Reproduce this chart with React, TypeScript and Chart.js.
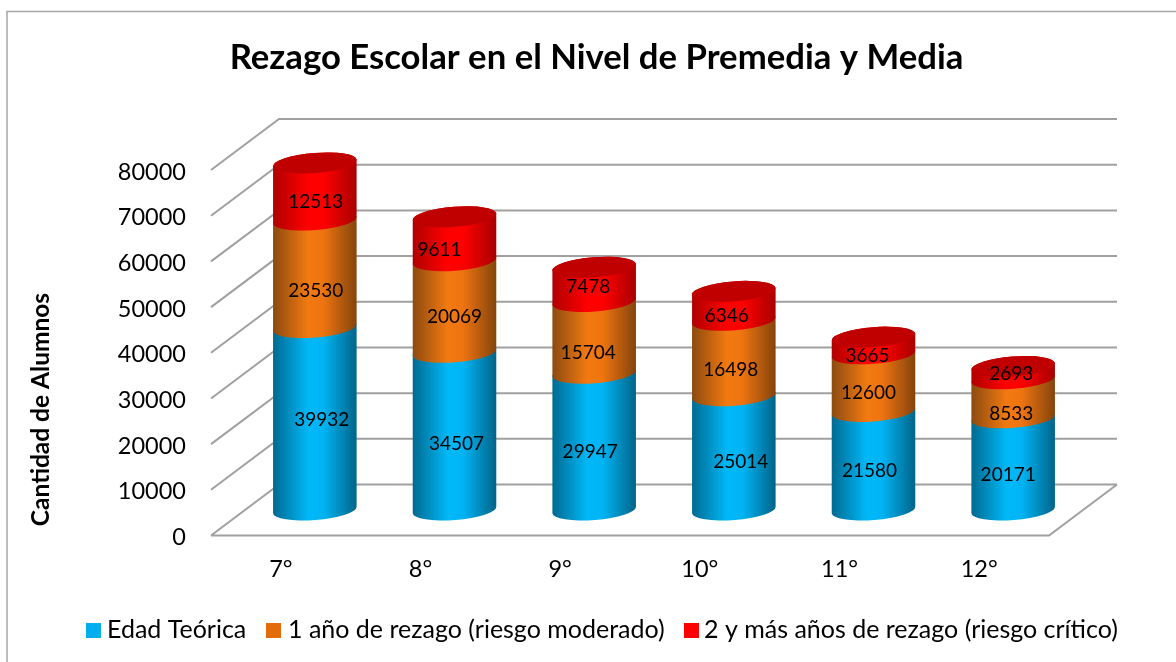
import React, { useEffect, useRef } from "react";
import { Chart, registerables } from "chart.js";

Chart.register(...registerables);

const grades = ["7°", "8°", "9°", "10°", "11°", "12°"];
const edadTeorica = [39932, 34507, 29947, 25014, 21580, 20171];
const unAnio = [23530, 20069, 15704, 16498, 12600, 8533];
const dosAnios = [12513, 9611, 7478, 6346, 3665, 2693];
const seriesNames = [
  "Edad Teórica",
  "1 año de rezago (riesgo moderado)",
  "2 y más años de rezago (riesgo crítico)",
];
const legendColors = ["#00aeef", "#e36c09", "#ff0000"];
const sideStops = [
  ["#006a90", "#00b8f8", "#00b4f4", "#006488"],
  ["#8c4a10", "#f27a10", "#ee7410", "#84440c"],
  ["#b00000", "#ff0000", "#ff0000", "#a80000"],
];
const capColor = "#c00000";

// label nudges from the segment centre, as [series][grade] = [dx, dy]
const labelNudges = [
  [[7, 0], [2, 11], [-4, 9], [7, 8], [-4, 9], [-5, 9]],
  [[1, 16], [0, 9], [-6, 14], [-3, 10], [-5, 9], [-2, 14]],
  [[1, 9], [-15, 10], [-6, 1], [-7, 9], [-6, 9], [-2, 0]],
];

const FONT = "Lato, 'Open Sans', sans-serif";
const DEPTH_X = 68;
const DEPTH_Y = 51;
const TILT = (-4.5 * Math.PI) / 180;
const CAP_RY = 10;

const scene = {
  id: "scene",
  afterLayout(chart: any) {
    chart.titleBlock.left += 72;
    chart.titleBlock.right += 72;
  },
  beforeDatasetsDraw(chart: any) {
    const { ctx, chartArea, scales } = chart;
    const { left, right } = chartArea;
    ctx.save();
    // frame
    ctx.strokeStyle = "#a6a6a6";
    ctx.lineWidth = 1.5;
    ctx.beginPath();
    ctx.moveTo(7, 662);
    ctx.lineTo(7, 11.5);
    ctx.lineTo(1176, 11.5);
    ctx.stroke();
    // 3D walls: gridlines follow the value scale
    ctx.strokeStyle = "#a0a0a0";
    ctx.lineWidth = 2;
    scales.y.ticks.forEach((t: any) => {
      const y = scales.y.getPixelForValue(t.value);
      ctx.beginPath();
      ctx.moveTo(left, y);
      ctx.lineTo(left + DEPTH_X, y - DEPTH_Y);
      ctx.lineTo(right + DEPTH_X, y - DEPTH_Y);
      if (t.value === 0) {
        ctx.moveTo(right + DEPTH_X, y - DEPTH_Y);
        ctx.lineTo(right, y);
        ctx.lineTo(left, y);
      }
      ctx.stroke();
    });
    // cylinders, lowest series first
    chart.data.datasets.forEach((_: any, si: number) => {
      const meta = chart.getDatasetMeta(si);
      meta.data.forEach((bar: any) => {
        const rx = bar.width / 2;
        const cx = bar.x + DEPTH_X / 2;
        const yTop = bar.y - DEPTH_Y / 2;
        const yBase = bar.base - DEPTH_Y / 2;
        const g = ctx.createLinearGradient(cx - rx, 0, cx + rx, 0);
        const st = sideStops[si];
        g.addColorStop(0, st[0]);
        g.addColorStop(0.42, st[1]);
        g.addColorStop(0.6, st[2]);
        g.addColorStop(1, st[3]);
        ctx.fillStyle = g;
        ctx.beginPath();
        ctx.ellipse(cx, yBase, rx, CAP_RY, TILT, Math.PI, 0, true);
        ctx.ellipse(cx, yTop, rx, CAP_RY, TILT, 0, Math.PI, true);
        ctx.closePath();
        ctx.fill();
        if (si === chart.data.datasets.length - 1) {
          ctx.fillStyle = capColor;
          ctx.beginPath();
          ctx.ellipse(cx, yTop, rx, CAP_RY, TILT, 0, Math.PI * 2);
          ctx.fill();
        }
      });
    });
    ctx.restore();
  },
  beforeDatasetDraw() {
    return false;
  },
  afterDatasetsDraw(chart: any) {
    const { ctx } = chart;
    ctx.save();
    ctx.fillStyle = "#000";
    ctx.font = `19px ${FONT}`;
    ctx.textAlign = "center";
    ctx.textBaseline = "middle";
    chart.data.datasets.forEach((ds: any, si: number) => {
      chart.getDatasetMeta(si).data.forEach((bar: any, i: number) => {
        const [nx, ny] = labelNudges[si][i];
        const x = bar.x + DEPTH_X / 2 + nx;
        const y = (bar.y + bar.base) / 2 - DEPTH_Y / 2 + ny + 1.5;
        ctx.fillText(String(ds.data[i]), x, y);
      });
    });
    // axis title
    ctx.save();
    ctx.translate(41, 409.5);
    ctx.rotate(-Math.PI / 2);
    ctx.font = `bold 24.5px ${FONT}`;
    ctx.fillText("Cantidad de Alumnos", 0, 0);
    ctx.restore();
    // legend
    ctx.font = `25px ${FONT}`;
    ctx.textAlign = "left";
    const starts = [[86, 107], [266, 288], [684, 704]];
    chart.data.datasets.forEach((ds: any, si: number) => {
      ctx.fillStyle = ds.backgroundColor;
      ctx.fillRect(starts[si][0], 623, 15, 15);
      ctx.fillStyle = "#000";
      ctx.fillText(ds.label, starts[si][1], 630);
    });
    ctx.restore();
  },
};

export default function App() {
  const ref = useRef<HTMLCanvasElement>(null);
  useEffect(() => {
    document.body.style.margin = "0";
    const chart = new Chart(ref.current!, {
      type: "bar",
      data: {
        labels: grades,
        datasets: [edadTeorica, unAnio, dosAnios].map((data, i) => ({
          label: seriesNames[i],
          data,
          backgroundColor: legendColors[i],
          categoryPercentage: 0.6,
          barPercentage: 1,
        })),
      },
      options: {
        responsive: false,
        animation: false,
        layout: { padding: { left: 0, right: 127, top: 0, bottom: 0 } },
        plugins: {
          legend: { display: false },
          tooltip: { enabled: false },
          title: {
            display: true,
            text: "Rezago Escolar en el Nivel de Premedia y Media",
            color: "#000",
            font: { family: FONT, size: 34.7, weight: "bold", lineHeight: 1.2 },
            padding: { top: 37, bottom: 91.4 },
            align: "center",
          },
        },
        scales: {
          x: {
            stacked: true,
            grid: { display: false, drawTicks: false },
            border: { display: false },
            ticks: { color: "#000", font: { family: FONT, size: 23.5 }, padding: 20, maxRotation: 0 },
            afterFit: (s: any) => { s.height = 126.5; },
          },
          y: {
            stacked: true,
            min: 0,
            max: 80000,
            grid: { display: false, drawTicks: false },
            border: { display: false },
            ticks: {
              color: "#000",
              font: { family: FONT, size: 23.5 },
              stepSize: 10000,
              padding: 25,
              labelOffset: 2,
              callback: (v: any) => String(v),
            },
            afterFit: (s: any) => { s.width = 211; },
          },
        },
      },
      plugins: [scene],
    });
    return () => chart.destroy();
  }, []);
  return <canvas ref={ref} width={1176} height={662} style={{ display: "block", background: "#fff" }} />;
}
